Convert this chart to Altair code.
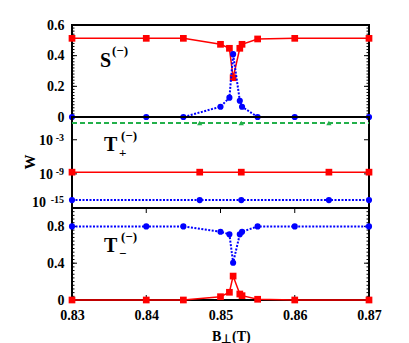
import altair as alt
import pandas as pd
import numpy as np

# ---------------- data ----------------
b_main = [0.83, 0.84, 0.845, 0.85, 0.8512, 0.8517, 0.8526, 0.8529, 0.855, 0.86, 0.87]
s_red = [0.513, 0.513, 0.513, 0.474, 0.448, 0.256, 0.448, 0.474, 0.509, 0.513, 0.513]
s_blue = [0.0, 0.0, 0.0, 0.067, 0.126, 0.41, 0.106, 0.067, 0.0, 0.0, 0.0]
tm_red = [0.0, 0.0, 0.0, 0.036, 0.084, 0.26, 0.065, 0.047, 0.008, 0.0, 0.0]
tm_blue = [0.80, 0.80, 0.80, 0.742, 0.714, 0.405, 0.714, 0.742, 0.80, 0.80, 0.80]

b_mid = [0.83, 0.8472, 0.8528, 0.8646, 0.87]
tp_red = [2e-9, 2e-9, 2e-9, 2e-9, 2e-9]
tp_blue = [2.5e-14, 2.5e-14, 2.5e-14, 2.5e-14, 2.5e-14]
tp_green = [0.9, 0.9, 0.9, 0.9, 0.9]
green_marker_b = [0.8472, 0.8528, 0.8646]
green_marker_v = [0.9, 0.9, 0.9]

x_ticks = [0.83, 0.84, 0.85, 0.86, 0.87]
top_ticks = [0, 0.2, 0.4, 0.6]
bot_ticks = [0, 0.4, 0.8]
mid_ticks = [1e-3, 1e-9, 1e-15]
mid_exps = ["-3", "-9", "-15"]

# ---------------- styling ----------------
FONT = "Liberation Serif"
W = 297
H_TOP, H_MID, H_BOT = 92, 91, 92
RED = "#ff0000"
BLUE = "#0000ff"
GREEN = "#22b04a"

xscale = alt.Scale(domain=[0.83, 0.87], nice=False, zero=False)


def X(field="b", axis=None):
    return alt.X(f"{field}:Q", scale=xscale, axis=axis, title=None)


lab = dict(labelFont=FONT, labelFontWeight="bold", labelFontSize=14, labelColor="black",
           ticks=False, domain=False, grid=False, title=None)

top_axis = alt.Axis(values=top_ticks, labelPadding=8,
                    labelExpr="datum.value == 0 ? '0' : format(datum.value, '.1f')", **lab)
bot_axis = alt.Axis(values=bot_ticks, labelPadding=8,
                    labelExpr="datum.value == 0 ? '0' : format(datum.value, '.1f')", **lab)
x_axis = alt.Axis(values=x_ticks, format=".2f", labelPadding=8, labelFlush=False, **lab)

top_scale = alt.Scale(domain=[0, 0.6], nice=False, zero=False)
mid_scale = alt.Scale(type="log", domain=[1e-15, 10], nice=False)
bot_scale = alt.Scale(domain=[0, 1], nice=False, zero=False)


def YT(f):
    return alt.Y(f"{f}:Q", scale=top_scale, axis=top_axis, title=None)


def YM(f):
    return alt.Y(f"{f}:Q", scale=mid_scale, axis=None, title=None)


def YB(f):
    return alt.Y(f"{f}:Q", scale=bot_scale, axis=bot_axis, title=None)


def series(df, yfun, field, color, shape, dash=None, width=1.5, size=45, xaxis=None):
    lk = dict(color=color, strokeWidth=width)
    if dash:
        lk["strokeDash"] = dash
    line = alt.Chart(df).mark_line(**lk).encode(x=X(axis=xaxis), y=yfun(field))
    pts = alt.Chart(df).mark_point(shape=shape, filled=True, size=size, opacity=1,
                                   color=color).encode(x=X(axis=xaxis), y=yfun(field))
    return [line, pts]


def txt(s, x, y, size, align="left", baseline="alphabetic", angle=0):
    return alt.Chart(pd.DataFrame({"t": [s]})).mark_text(
        font=FONT, fontWeight="bold", fontSize=size, align=align, baseline=baseline,
        angle=angle, color="black").encode(text="t:N", x=alt.value(x), y=alt.value(y))


def yticks(vals, yfun, length):
    df = pd.DataFrame({"v": vals})
    left = alt.Chart(df).mark_rule(color="black", strokeWidth=1).encode(
        y=yfun("v"), x=alt.value(0), x2=alt.value(length))
    right = alt.Chart(df).mark_rule(color="black", strokeWidth=1).encode(
        y=yfun("v"), x=alt.value(W), x2=alt.value(W - length))
    return [left, right]


def xticks(vals, h, length, xaxis=None):
    df = pd.DataFrame({"b": vals})
    bot = alt.Chart(df).mark_rule(color="black", strokeWidth=1).encode(
        x=X(axis=xaxis), y=alt.value(h), y2=alt.value(h - length))
    top = alt.Chart(df).mark_rule(color="black", strokeWidth=1).encode(
        x=X(axis=xaxis), y=alt.value(0), y2=alt.value(length))
    return [bot, top]


# ---------------- top panel: S(-) ----------------
df_main = pd.DataFrame({"b": b_main, "sr": s_red, "sb": s_blue, "tr": tm_red, "tb": tm_blue})
top_minor = [round(v, 2) for v in np.arange(0, 0.6001, 0.02)]
top_layers = (yticks(top_minor, YT, 2.5) + yticks(top_ticks, YT, 5)
              + series(df_main, YT, "sr", RED, "square", size=45)
              + series(df_main, YT, "sb", BLUE, "circle", dash=[2, 1.5], width=2, size=38)
              + [txt("S", 28, 42, 20), txt("(\u2212)", 40, 30, 13)])
top = alt.layer(*top_layers).properties(width=W, height=H_TOP)

# ---------------- middle panel: T+(-) ----------------
df_mid = pd.DataFrame({"b": b_mid, "r": tp_red, "bl": tp_blue, "g": tp_green})
df_gm = pd.DataFrame({"b": green_marker_b, "g": green_marker_v})
df_lab = pd.DataFrame({"v": mid_ticks, "e": mid_exps})
lab_base = alt.Chart(df_lab).transform_calculate(
    lx="-5 - 7 * length(datum.e)",
    lv="datum.v < 1e-12 ? datum.v * 10 : datum.v")
mid_layers = (yticks(mid_ticks[:2], YM, 5)
              + [alt.Chart(df_mid).mark_line(color=GREEN, strokeWidth=2, strokeDash=[5, 3]).encode(
                  x=X(), y=YM("g")),
                 alt.Chart(df_gm).mark_point(shape="triangle-up", filled=True, size=28, opacity=1,
                                             color=GREEN).encode(x=X(), y=YM("g"))]
              + series(df_mid, YM, "r", RED, "square", size=45)
              + series(df_mid, YM, "bl", BLUE, "circle", dash=[2, 1.5], width=2, size=38)
              + [lab_base.mark_text(
                  font=FONT, fontWeight="bold", fontSize=14, align="right", baseline="alphabetic",
                  dy=5, color="black").encode(text=alt.value("10"), x=alt.X("lx:Q", scale=None),
                                                y=YM("lv")),
                 lab_base.mark_text(
                  font=FONT, fontWeight="bold", fontSize=10, align="right", baseline="alphabetic",
                  dy=1, color="black").encode(text="e:N", x=alt.value(-8), y=YM("lv")),
                 txt("W", -42, 45, 15, align="center", baseline="middle", angle=270),
                 txt("T", 32, 34, 20), txt("(\u2212)", 49, 23, 13), txt("+", 47, 40, 13)])
mid = alt.layer(*mid_layers).properties(width=W, height=H_MID)

# ---------------- bottom panel: T-(-) ----------------
bot_minor = [round(v, 2) for v in np.arange(0, 1.0001, 0.04)]
bot_layers = (yticks(bot_minor, YB, 2.5) + yticks(bot_ticks, YB, 5)
              + xticks(x_ticks, H_BOT, 5, xaxis=x_axis)
              + series(df_main, YB, "tr", RED, "square", size=45, xaxis=x_axis)
              + series(df_main, YB, "tb", BLUE, "circle", dash=[2, 1.5], width=2, size=38, xaxis=x_axis)
              + [txt("T", 32, 44, 20), txt("(\u2212)", 49, 33, 13), txt("\u2212", 47, 50, 13),
                 txt("B", 140, 133, 14), txt("\u22a5", 149, 135, 12), txt("(T)", 160, 133, 14)])
bot = alt.layer(*bot_layers).properties(width=W, height=H_BOT)

chart = alt.vconcat(top, mid, bot, spacing=0, bounds="flush").properties(
    padding={"left": 14, "top": 9, "right": 5, "bottom": 0}
).configure_view(stroke="black", strokeWidth=2)

chart.save("out.html", embed_options={"renderer": "svg", "actions": False})
